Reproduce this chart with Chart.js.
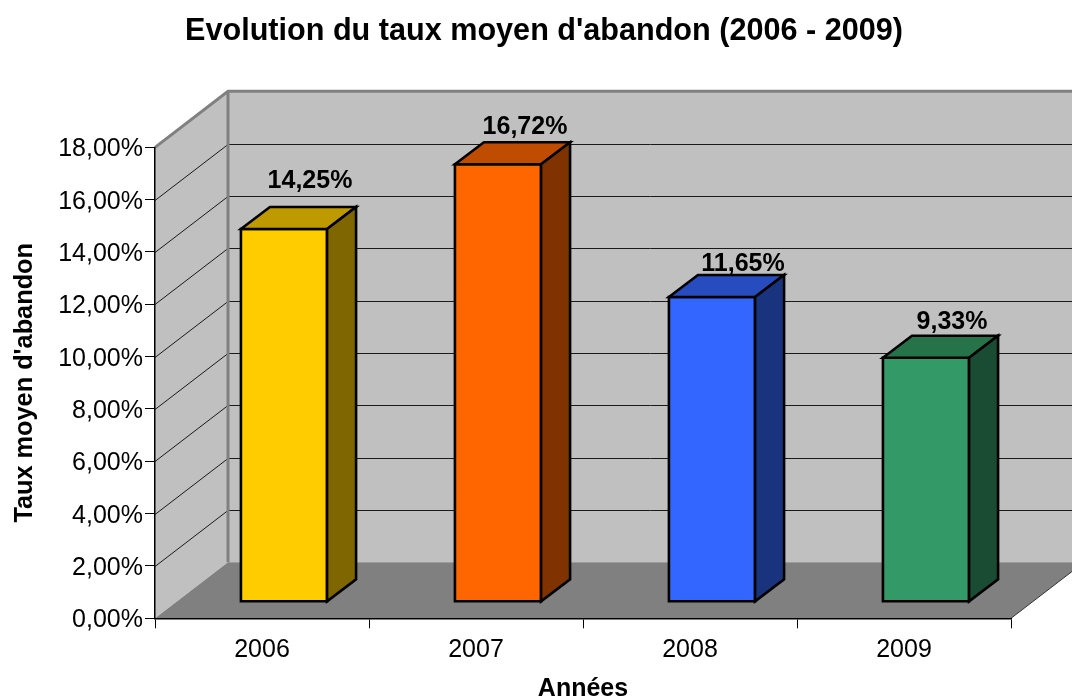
<!DOCTYPE html>
<html>
<head>
<meta charset="utf-8">
<title>Evolution du taux moyen d'abandon</title>
<script src="https://cdn.jsdelivr.net/npm/chart.js@4"></script>
<style>
  body { margin: 0; background: #ffffff; }
  canvas { display: block; }
</style>
</head>
<body>
<canvas id="graphique" width="1072" height="700"></canvas>
<script>
// Données
const annees = ['2006', '2007', '2008', '2009'];
const tauxAbandon = [14.25, 16.72, 11.65, 9.33];

// Couleurs des barres : face, dessus, côté
const couleursFace = ['#FFCC00', '#FF6600', '#3366FF', '#339966'];
const couleursDessus = ['#BF9900', '#BF4C00', '#264CBF', '#267349'];
const couleursCote = ['#806600', '#803300', '#19337F', '#1A4C33'];

// Petits décalages des étiquettes par rapport au dessus de la barre
const decalageEtiquetteX = [26, 27, 31, 26];
const decalageEtiquetteY = [-48, -37, -33, -36];

// Perspective : profondeur du fond et des barres
const FOND_X = 73, FOND_Y = -56;
const BARRE_X = 22, BARRE_Y = -16.5;
const PROF_X = 29, PROF_Y = -22;

const police = 'Liberation Sans, Arial, sans-serif';
const formatTaux = v => v.toFixed(2).replace('.', ',') + '%';

function polygone(ctx, points, remplissage, trait, epaisseur) {
    ctx.beginPath();
    points.forEach((p, i) => i ? ctx.lineTo(p[0], p[1]) : ctx.moveTo(p[0], p[1]));
    ctx.closePath();
    if (remplissage) {
        ctx.fillStyle = remplissage;
        ctx.fill();
    }
    if (trait) {
        ctx.strokeStyle = trait;
        ctx.lineWidth = epaisseur;
        ctx.lineJoin = 'miter';
        ctx.stroke();
    }
}

const decor3D = {
    id: 'decor3D',
    afterLayout(chart) {
        // le titre est centré un peu à droite du milieu de la page
        const t = chart.titleBlock;
        const d = 544 - (t.left + t.right) / 2;
        t.left += d;
        t.right += d;
    },
    beforeDraw(chart) {
        const ctx = chart.ctx;
        const a = chart.chartArea;
        const y = chart.scales.y;
        ctx.save();

        // murs
        polygone(ctx, [[a.left, a.top], [a.left + FOND_X, a.top + FOND_Y],
            [a.left + FOND_X, a.bottom + FOND_Y], [a.left, a.bottom]], '#C0C0C0');
        polygone(ctx, [[a.left + FOND_X, a.top + FOND_Y], [a.right + FOND_X, a.top + FOND_Y],
            [a.right + FOND_X, a.bottom + FOND_Y], [a.left + FOND_X, a.bottom + FOND_Y]], '#C0C0C0');

        // lignes de la grille sur les deux murs
        ctx.strokeStyle = '#1a1a1a';
        ctx.lineWidth = 1;
        y.ticks.forEach(t => {
            if (t.value === 0 || t.value === y.max) return;
            const py = Math.round(y.getPixelForValue(t.value)) + 0.5;
            ctx.beginPath();
            ctx.moveTo(a.left, py);
            ctx.lineTo(a.left + FOND_X, py + FOND_Y);
            ctx.lineTo(a.right + FOND_X, py + FOND_Y);
            ctx.stroke();
        });

        // sol
        polygone(ctx, [[a.left, a.bottom], [a.left + FOND_X, a.bottom + FOND_Y],
            [a.right + FOND_X, a.bottom + FOND_Y], [a.right, a.bottom]], '#808080');

        // bordures grises des murs
        ctx.strokeStyle = '#808080';
        ctx.lineWidth = 3;
        ctx.beginPath();
        ctx.moveTo(a.left, a.top);
        ctx.lineTo(a.left + FOND_X, a.top + FOND_Y);
        ctx.lineTo(a.right + FOND_X, a.top + FOND_Y);
        ctx.moveTo(a.left + FOND_X, a.top + FOND_Y);
        ctx.lineTo(a.left + FOND_X, a.bottom + FOND_Y);
        ctx.stroke();

        // bord droit du sol
        ctx.strokeStyle = '#333333';
        ctx.lineWidth = 1;
        ctx.beginPath();
        ctx.moveTo(a.right, a.bottom);
        ctx.lineTo(a.right + FOND_X, a.bottom + FOND_Y);
        ctx.stroke();
        ctx.restore();
    },
    beforeDatasetsDraw(chart) {
        // les barres sont avancées vers le milieu du sol
        chart.ctx.save();
        chart.ctx.translate(BARRE_X, BARRE_Y);
    },
    afterDatasetsDraw(chart) {
        const ctx = chart.ctx;
        ctx.restore();
        ctx.save();
        chart.getDatasetMeta(0).data.forEach((barre, i) => {
            const g = barre.x - barre.width / 2 + BARRE_X;
            const d = barre.x + barre.width / 2 + BARRE_X;
            const h = barre.y + BARRE_Y;
            const b = barre.base + BARRE_Y;
            polygone(ctx, [[g, h], [d, h], [d, b], [g, b]], null, '#000000', 2.6);
            polygone(ctx, [[g, h], [g + PROF_X, h + PROF_Y], [d + PROF_X, h + PROF_Y], [d, h]],
                couleursDessus[i], '#000000', 2.6);
            polygone(ctx, [[d, h], [d + PROF_X, h + PROF_Y], [d + PROF_X, b + PROF_Y], [d, b]],
                couleursCote[i], '#000000', 2.6);

            ctx.fillStyle = '#000000';
            ctx.font = 'bold 25px ' + police;
            ctx.textAlign = 'center';
            ctx.textBaseline = 'middle';
            ctx.fillText(formatTaux(tauxAbandon[i]),
                (g + d) / 2 + decalageEtiquetteX[i], h + decalageEtiquetteY[i]);
        });
        ctx.restore();
    }
};

new Chart(document.getElementById('graphique'), {
    type: 'bar',
    data: {
        labels: annees,
        datasets: [{
            data: tauxAbandon,
            backgroundColor: couleursFace,
            borderWidth: 0,
            barPercentage: 0.805,
            categoryPercentage: 0.5
        }]
    },
    options: {
        responsive: false,
        animation: false,
        layout: {
            autoPadding: false,
            padding: { left: 0, right: 61, top: 0, bottom: 0 }
        },
        plugins: {
            legend: { display: false },
            tooltip: { enabled: false },
            title: {
                display: true,
                text: "Evolution du taux moyen d'abandon (2006 - 2009)",
                color: '#000000',
                font: { family: police, size: 30.6, weight: 'bold', lineHeight: 1.2 },
                padding: { top: 13, bottom: 97.6 }
            }
        },
        scales: {
            x: {
                afterFit(s) { s.height = 81.7; },
                grid: { drawOnChartArea: false, tickLength: 10, tickColor: '#000000', tickWidth: 1 },
                border: { color: '#000000', width: 1.5 },
                ticks: { color: '#000000', font: { family: police, size: 25 }, padding: 7, maxRotation: 0 },
                title: {
                    display: true,
                    text: 'Années',
                    color: '#000000',
                    font: { family: police, size: 25, weight: 'bold' },
                    padding: { top: -4, bottom: -4 }
                }
            },
            y: {
                min: 0,
                max: 18,
                afterFit(s) { s.width = 155; },
                grid: { drawOnChartArea: false, tickLength: 10, tickColor: '#000000', tickWidth: 1 },
                border: { color: '#000000', width: 1.5 },
                ticks: {
                    stepSize: 2,
                    color: '#000000',
                    font: { family: police, size: 25 },
                    padding: 2,
                    labelOffset: 2,
                    callback: v => formatTaux(v)
                },
                title: {
                    display: true,
                    text: "Taux moyen d'abandon",
                    color: '#000000',
                    font: { family: police, size: 25.3, weight: 'bold' },
                    padding: { top: 10, bottom: 0 }
                }
            }
        }
    },
    plugins: [decor3D]
});
</script>
</body>
</html>
